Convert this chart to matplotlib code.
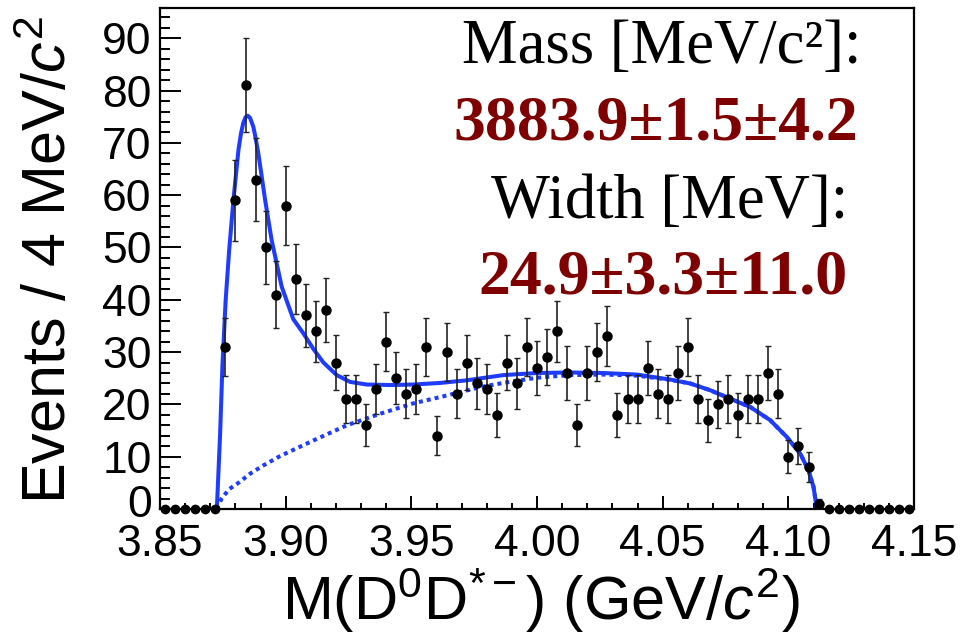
import numpy as np
import matplotlib
matplotlib.use("Agg")
import matplotlib.pyplot as plt
from matplotlib.ticker import MultipleLocator, FormatStrFormatter
from matplotlib.transforms import ScaledTranslation

plt.rcParams['font.family'] = ['Liberation Sans', 'DejaVu Sans']
plt.rcParams['mathtext.fontset'] = 'custom'
plt.rcParams['mathtext.rm'] = 'Liberation Sans'
plt.rcParams['mathtext.it'] = 'Liberation Sans:italic'

## histogram: 4 MeV bins from 3.85 to 4.15 GeV
bin_lo = 3.85
bin_w = 0.004
counts = [0, 0, 0, 0, 0, 0, 31, 59, 81, 63, 50, 41, 58, 44, 37, 34, 38, 28, 21, 21,
          16, 23, 32, 25, 22, 23, 31, 14, 30, 22, 28, 24, 23, 18, 28, 24, 31, 27, 29, 34,
          26, 16, 26, 30, 33, 18, 21, 21, 27, 22, 21, 26, 31, 21, 17, 20, 21, 18, 21, 21,
          26, 22, 10, 12, 8, 1, 0, 0, 0, 0, 0, 0, 0, 0, 0]

## total fit (solid)
fit_x = [3.8726, 3.8739, 3.8748, 3.8761, 3.8775, 3.8792, 3.8812, 3.8822, 3.8831, 3.8840,
         3.8849, 3.8858, 3.8871, 3.8880, 3.8891, 3.8918, 3.8944, 3.8984, 3.9030, 3.9070,
         3.9110, 3.9150, 3.9203, 3.9256, 3.9322, 3.9415, 3.9508, 3.9614, 3.9720, 3.9866,
         3.9999, 4.0131, 4.0264, 4.0397, 4.0529, 4.0609, 4.0689, 4.0768, 4.0848, 4.0927,
         4.0993, 4.1047, 4.1080, 4.1100, 4.1110, 4.1113]
fit_y = [0, 14.4, 27.2, 39.9, 49.5, 59.1, 68.7, 71.8, 73.8, 74.9,
         75.2, 74.8, 73.1, 71.0, 68.0, 59.1, 51.4, 42.5, 36.3, 33.6,
         30.6, 28.0, 25.6, 24.3, 23.8, 23.7, 23.8, 24.1, 24.6, 25.6,
         26.0, 26.1, 26.0, 25.7, 24.75, 24.0, 22.7, 21.1, 19.5, 17.0,
         13.8, 10.6, 7.4, 4.2, 1.0, 0]

## background (dotted)
bkg_x = [3.8726, 3.8745, 3.8775, 3.8812, 3.8860, 3.8910, 3.8977, 3.9110, 3.9243, 3.9375,
         3.9508, 3.9641, 3.9773, 3.9866, 3.9999, 4.0131, 4.0264, 4.0397, 4.0529, 4.0609,
         4.0689, 4.0768, 4.0848, 4.0927, 4.0993, 4.1047, 4.1080, 4.1100, 4.1110, 4.1113]
bkg_y = [0, 2.0, 3.8, 5.0, 6.8, 8.3, 10.1, 13.1, 16.0, 18.2,
         20.2, 21.7, 23.3, 24.1, 25.1, 25.6, 25.7, 25.5, 24.7, 24.0,
         22.7, 21.1, 19.5, 17.0, 13.8, 10.6, 7.4, 4.2, 1.0, 0]

mass_label = "Mass [MeV/c\u00b2]:"
mass_value = "3883.9\u00b11.5\u00b14.2"
width_label = "Width [MeV]:"
width_value = "24.9\u00b13.3\u00b111.0"

counts = np.array(counts, dtype=float)
centers = bin_lo + bin_w * (np.arange(len(counts)) + 0.5)
nz = counts > 0

fig = plt.figure(figsize=(9.63, 6.34), dpi=100)
ax = fig.add_axes([0.1662, 0.1972, 0.783, 0.7902])

blue = '#1e3cff'
ax.plot(fit_x, fit_y, color=blue, lw=2.9, zorder=2, solid_joinstyle='round')
ax.plot(bkg_x, bkg_y, color=blue, lw=2.9, linestyle=(0, (1, 1)), zorder=2)

ax.errorbar(centers[nz], counts[nz], yerr=np.sqrt(counts[nz]), fmt='o', color='black',
            ms=6.5, elinewidth=1.2, capsize=2, capthick=1.0, ecolor='#222222', zorder=3)
ax.plot(centers[~nz], counts[~nz], 'o', color='black', ms=6, clip_on=False, zorder=3)

ax.set_xlim(3.85, 4.15)
ax.set_ylim(0, 95.8)
ax.xaxis.set_major_locator(MultipleLocator(0.05))
ax.xaxis.set_minor_locator(MultipleLocator(0.01))
ax.xaxis.set_major_formatter(FormatStrFormatter('%.2f'))
ax.yaxis.set_major_locator(MultipleLocator(10))
ax.yaxis.set_minor_locator(MultipleLocator(2))

ax.tick_params(axis='x', which='major', direction='in', length=9.5, width=1.4,
               labelsize=32, pad=11, top=False)
ax.tick_params(axis='x', which='minor', direction='in', length=4.5, width=1.4, top=False)
ax.tick_params(axis='y', which='major', direction='in', length=15, width=1.4,
               labelsize=32, pad=6, right=False)
ax.tick_params(axis='y', which='minor', direction='in', length=7.2, width=1.4, right=False)
for s in ax.spines.values():
    s.set_linewidth(1.6)

ax.set_xlabel(r'M(D$^0$D$^{\mathrm{*-}}$) (GeV/$c^2$)', fontsize=44)
ax.set_ylabel(r'Events / 4 MeV/$c^2$', fontsize=44)
ax.xaxis.set_label_coords(0.505, -0.112)
ax.yaxis.set_label_coords(-0.108, 0.497)

red = '#7f0000'
ax.text(0.666, 0.89, mass_label, transform=ax.transAxes, ha='center', va='baseline',
        family='Liberation Serif', fontsize=45)
ax.text(0.658, 0.737, mass_value, transform=ax.transAxes, ha='center', va='baseline',
        family='Liberation Serif', fontsize=46, fontweight='bold', color=red)
ax.text(0.676, 0.581, width_label, transform=ax.transAxes, ha='center', va='baseline',
        family='Liberation Serif', fontsize=45)
ax.text(0.667, 0.431, width_value, transform=ax.transAxes, ha='center', va='baseline',
        family='Liberation Serif', fontsize=46, fontweight='bold', color=red)

# lift the "0" label a little off the x axis, like the original
fig.canvas.draw()
for tk in ax.yaxis.get_major_ticks():
    if tk.label1.get_text() == '0':
        tk.label1.set_transform(tk.label1.get_transform()
                                + ScaledTranslation(0, 6 / 72, fig.dpi_scale_trans))

fig.savefig('out.png', dpi=100)
